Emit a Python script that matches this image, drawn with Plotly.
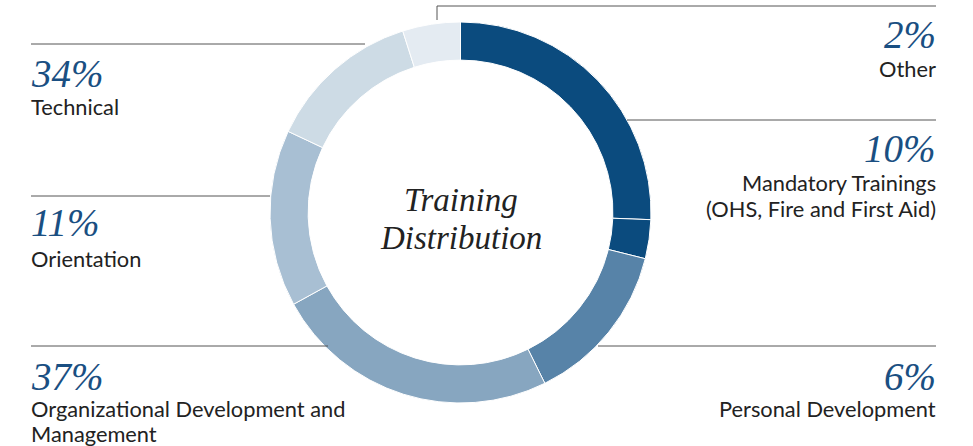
import plotly.graph_objects as go

W, H = 973, 446

# ring segments, clockwise from 12 o'clock (share of the circle)
segmentos = ["Seg 1", "Seg 2", "Seg 3", "Seg 4", "Seg 5", "Seg 6", "Seg 7"]
valores = [25.6, 3.3, 13.8, 24.3, 15.0, 13.1, 4.9]
cores = ["#0b4b7e", "#0b4b7e", "#5783a8", "#87a6c0", "#a8bfd3", "#cddbe5", "#e4ebf2"]

# callout texts
percentuais = ["2%", "10%", "6%", "34%", "11%", "37%"]
rotulos = [
    ["Other"],
    ["Mandatory Trainings", "(OHS, Fire and First Aid)"],
    ["Personal Development"],
    ["Technical"],
    ["Orientation"],
    ["Organizational Development and", "Management"],
]
titulo_centro = ["Training", "Distribution"]

AZUL = "#1a4f82"
TEXTO = "#222222"
LINHA = "#555555"
SERIF = "Liberation Serif, Times New Roman, serif"
SANS = "Lato, Noto Sans, sans-serif"


def px(x):
    return x / W


def py(y):
    return 1 - y / H


fig = go.Figure(
    go.Pie(
        labels=segmentos,
        values=valores,
        sort=False,
        direction="clockwise",
        rotation=0,
        hole=0.8,
        marker={"colors": cores, "line": {"color": "white", "width": 1}},
        textinfo="none",
        hoverinfo="skip",
        domain={"x": [px(270), px(651)], "y": [py(403), py(22)]},
        showlegend=False,
    )
)

# (x, y percentual, y da primeira linha do rótulo, alinhamento)
posicoes = [
    (938, 34, 68, "right"),
    (938, 149, 183, "right"),
    (938, 376, 408, "right"),
    (29, 73, 106, "left"),
    (29, 222, 258, "left"),
    (29, 376, 408, "left"),
]
ENTRELINHA = 25.5


def nota(x, y, texto, al, fonte):
    return dict(
        x=px(x), y=py(y), xref="paper", yref="paper", text=texto,
        showarrow=False, xanchor=al, yanchor="middle", align=al, font=fonte,
    )


anotacoes = []
for (x, yp, yl, al), pct, linhas_rot in zip(posicoes, percentuais, rotulos):
    anotacoes.append(nota(x, yp, f"<i>{pct}</i>", al, {"family": SERIF, "size": 39, "color": AZUL}))
    for i, linha in enumerate(linhas_rot):
        anotacoes.append(
            nota(x, yl + i * ENTRELINHA, linha, al, {"family": SANS, "size": 21.8, "color": TEXTO})
        )

for i, linha in enumerate(titulo_centro):
    anotacoes.append(
        nota(461, 200 + i * 38, f"<i>{linha}</i>", "center", {"family": SERIF, "size": 33, "color": TEXTO})
    )

# leader lines
caminhos = [
    f"M {px(437)} {py(20)} L {px(437)} {py(6)} L {px(936)} {py(6)}",
    f"M {px(627)} {py(120)} L {px(936)} {py(120)}",
    f"M {px(598)} {py(346)} L {px(936)} {py(346)}",
    f"M {px(31)} {py(44)} L {px(365)} {py(44)}",
    f"M {px(31)} {py(196)} L {px(270)} {py(196)}",
    f"M {px(31)} {py(346)} L {px(328)} {py(346)}",
]
formas = [
    dict(type="path", path=p, xref="paper", yref="paper", line={"color": LINHA, "width": 1})
    for p in caminhos
]

fig.update_layout(
    width=W,
    height=H,
    margin={"l": 0, "r": 0, "t": 0, "b": 0},
    paper_bgcolor="white",
    plot_bgcolor="white",
    annotations=anotacoes,
    shapes=formas,
)

fig.write_html(
    "out.html",
    config={"displayModeBar": False},
    post_script="document.body.style.margin='0px';document.body.style.overflow='hidden';",
)
